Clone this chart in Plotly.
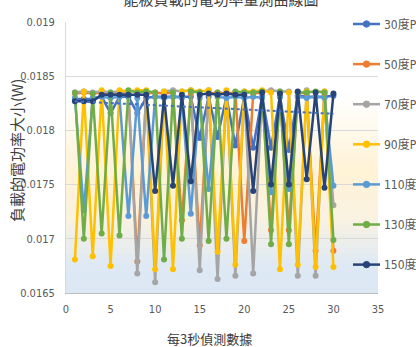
import numpy as np
import plotly.graph_objects as go

# x positions: one reading every 3 seconds
x_points = list(range(1, 31))

series_names = ["30度P", "50度P", "70度P", "90度P", "110度P", "130度P", "150度P"]
series_colors = ["#4472C4", "#ED7D31", "#A5A5A5", "#FFC000", "#5B9BD5", "#70AD47", "#264478"]

p30 = [0.01829, 0.01829, 0.01829, 0.01831, 0.01816, 0.01831, 0.01831, 0.01816, 0.01830, 0.01831,
       0.01831, 0.01831, 0.01831, 0.01831, 0.01793, 0.01831, 0.01794, 0.01831, 0.01786, 0.01831,
       0.01784, 0.01831, 0.01784, 0.01831, 0.01782, 0.01832, 0.01831, 0.01831, 0.01831, 0.01832]
p50 = [0.01834, 0.01835, 0.01834, 0.01835, 0.01834, 0.01835, 0.01834, 0.01679, 0.01834, 0.01835,
       0.01834, 0.01835, 0.01717, 0.01834, 0.01694, 0.01834, 0.01835, 0.01834, 0.01835, 0.01698,
       0.01834, 0.01835, 0.01708, 0.01834, 0.01708, 0.01835, 0.01834, 0.01689, 0.01834, 0.01689]
p70 = [0.01835, 0.01836, 0.01835, 0.01836, 0.01835, 0.01836, 0.01835, 0.01668, 0.01836, 0.01660,
       0.01836, 0.01837, 0.01836, 0.01837, 0.01671, 0.01837, 0.01663, 0.01836, 0.01666, 0.01836,
       0.01668, 0.01836, 0.01837, 0.01836, 0.01836, 0.01666, 0.01837, 0.01666, 0.01836, 0.01731]
p90 = [0.01681, 0.01836, 0.01684, 0.01837, 0.01675, 0.01837, 0.01836, 0.01837, 0.01837, 0.01672,
       0.01836, 0.01672, 0.01836, 0.01837, 0.01836, 0.01837, 0.01688, 0.01837, 0.01676, 0.01836,
       0.01836, 0.01837, 0.01835, 0.01672, 0.01835, 0.01676, 0.01836, 0.01674, 0.01836, 0.01674]
p110 = [0.01830, 0.01726, 0.01830, 0.01831, 0.01830, 0.01831, 0.01721, 0.01830, 0.01721, 0.01831,
        0.01830, 0.01831, 0.01830, 0.01723, 0.01830, 0.01746, 0.01831, 0.01830, 0.01831, 0.01830,
        0.01831, 0.01830, 0.01743, 0.01831, 0.01746, 0.01831, 0.01830, 0.01831, 0.01830, 0.01749]
p130 = [0.01835, 0.01700, 0.01834, 0.01705, 0.01835, 0.01703, 0.01837, 0.01835, 0.01836, 0.01835,
        0.01681, 0.01835, 0.01700, 0.01836, 0.01835, 0.01698, 0.01835, 0.01700, 0.01836, 0.01835,
        0.01835, 0.01836, 0.01695, 0.01836, 0.01695, 0.01835, 0.01835, 0.01836, 0.01835, 0.01699]
p150 = [0.01827, 0.01827, 0.01827, 0.01833, 0.01833, 0.01833, 0.01833, 0.01833, 0.01833, 0.01744,
        0.01831, 0.01749, 0.01833, 0.01753, 0.01833, 0.01834, 0.01833, 0.01834, 0.01833, 0.01833,
        0.01744, 0.01835, 0.01750, 0.01834, 0.01750, 0.01836, 0.01755, 0.01835, 0.01747, 0.01834]

series_values = [p30, p50, p70, p90, p110, p130, p150]

y_ticks = [0.0165, 0.017, 0.0175, 0.018, 0.0185, 0.019]
x_ticks = [0, 5, 10, 15, 20, 25, 30, 35]

chart_title = "能板負載的電功率量測曲線圖"
x_title = "每3秒偵測數據"
y_title = "負載的電功率大小(W)"

W, H = 416, 347
L, R, T, B = 66, 38, 22, 54
PW, PH = W - L - R, H - T - B

LATIN = "Liberation Sans Narrow, DejaVu Sans Condensed, Liberation Sans, Noto Sans CJK TC"
CJK = "Noto Sans CJK TC, Noto Sans CJK SC, sans-serif"


def px_x(px):
    return (px - L) / PW


def px_y(py):
    return (H - B - py) / PH


fig = go.Figure()

for name, color, vals in zip(series_names, series_colors, series_values):
    fig.add_trace(go.Scatter(
        x=x_points, y=vals, name=name, mode="lines+markers",
        line=dict(color=color, width=2.5),
        marker=dict(color=color, size=6),
    ))

# linear trend of the 30度P series
slope, intercept = np.polyfit(x_points, p30, 1)
trend_x = np.array([x_points[0], x_points[-1]], dtype=float)
fig.add_trace(go.Scatter(
    x=trend_x, y=slope * trend_x + intercept, mode="lines",
    line=dict(color="#4472C4", width=2, dash="dot"),
    hoverinfo="skip",
))

# plot-area gradient: white -> pale gold -> pale blue (top to bottom)
stops = [(0.0, (255, 255, 255)), (0.28, (255, 255, 255)), (0.55, (255, 243, 214)),
         (0.72, (250, 242, 224)), (0.9, (222, 233, 245)), (1.0, (220, 231, 244))]


def grad_color(t):
    for (t0, c0), (t1, c1) in zip(stops[:-1], stops[1:]):
        if t0 <= t <= t1:
            f = 0 if t1 == t0 else (t - t0) / (t1 - t0)
            return "rgb(%d,%d,%d)" % tuple(round(a + (b - a) * f) for a, b in zip(c0, c1))
    return "rgb(%d,%d,%d)" % stops[-1][1]


n_bands = 90
shapes = []
for k in range(n_bands):
    top = 1 - k / n_bands
    bot = 1 - (k + 1) / n_bands
    shapes.append(dict(type="rect", xref="x domain", yref="y domain",
                       x0=0, x1=1, y0=bot, y1=top + 0.002,
                       fillcolor=grad_color((k + 0.5) / n_bands),
                       line=dict(width=0), layer="below"))

# legend keys on the right edge (entries run past the canvas edge)
annotations = []
key_x0, key_x1, text_x = 353, 380, 382
for i, (name, color) in enumerate(zip(series_names, series_colors)):
    yy = px_y(24 + 40.1 * i)
    shapes.append(dict(type="line", xref="paper", yref="paper",
                       x0=px_x(key_x0), x1=px_x(key_x1), y0=yy, y1=yy,
                       line=dict(color=color, width=2.5), layer="above"))
    cx, r = (key_x0 + key_x1) / 2, 3.2
    shapes.append(dict(type="circle", xref="paper", yref="paper",
                       x0=px_x(cx - r), x1=px_x(cx + r),
                       y0=yy - r / PH, y1=yy + r / PH,
                       fillcolor=color, line=dict(color=color, width=1), layer="above"))
    annotations.append(dict(text=name, xref="paper", yref="paper",
                            x=px_x(text_x), y=yy, xanchor="left", yanchor="middle",
                            showarrow=False,
                            font=dict(family=LATIN, size=12, color="#595959")))

annotations += [
    dict(text=x_title, xref="paper", yref="paper",
         x=px_x(209), y=px_y(338),
         xanchor="center", yanchor="middle", showarrow=False,
         font=dict(family=CJK, size=13, color="#404040")),
    dict(text=y_title, xref="paper", yref="paper",
         x=px_x(16), y=px_y(150),
         xanchor="center", yanchor="middle", showarrow=False, textangle=-90,
         font=dict(family=CJK, size=15, color="#404040")),
]

fig.update_layout(
    width=W, height=H,
    margin=dict(l=L, r=R, t=T, b=B, autoexpand=False),
    paper_bgcolor="white", plot_bgcolor="white",
    shapes=shapes,
    annotations=annotations,
    showlegend=False,
    title=dict(text=chart_title, x=px_x(221), xref="paper", xanchor="center",
               y=1.0, yref="container", yanchor="middle",
               font=dict(family=CJK, size=15, color="#404040")),
    xaxis=dict(range=[0, 35], tickvals=x_ticks, showgrid=False, zeroline=False,
               showline=True, linecolor="#BFBFBF", linewidth=1,
               tickfont=dict(family=LATIN, size=11, color="#595959"),
               ticklabelstandoff=6),
    yaxis=dict(range=[0.0165, 0.019], tickvals=y_ticks, showgrid=True,
               gridcolor="#D9D9D9", gridwidth=1, zeroline=False,
               showline=True, linecolor="#D9D9D9", linewidth=1,
               tickfont=dict(family=LATIN, size=11, color="#595959"),
               ticklabelstandoff=8),
)

fig.write_html("out.html")
